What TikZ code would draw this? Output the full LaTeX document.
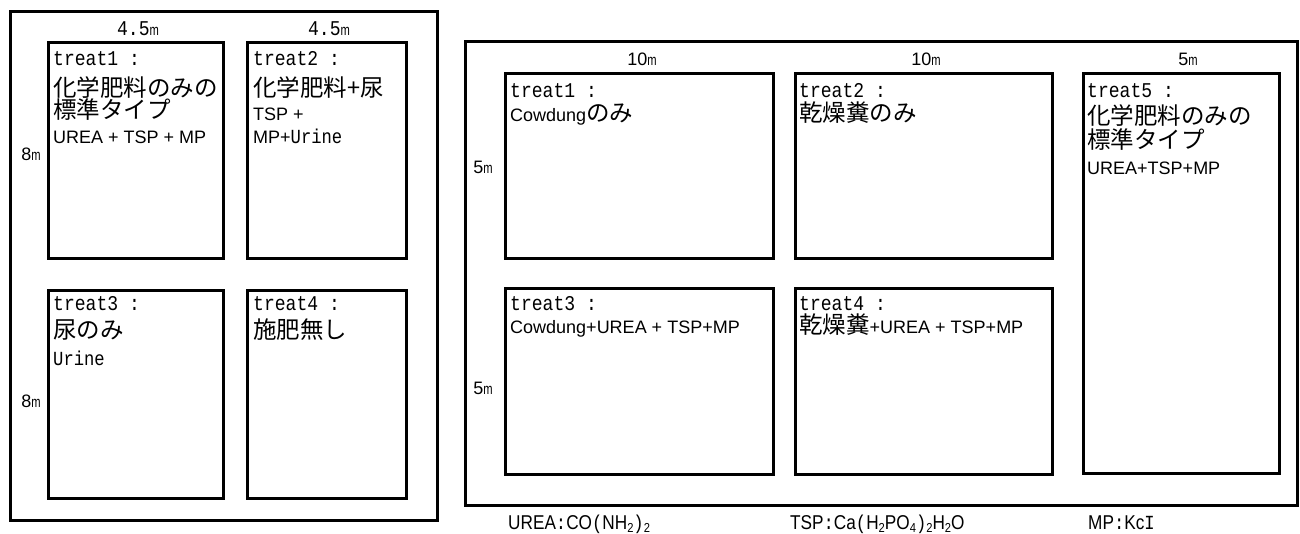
\documentclass[tikz,border=0pt]{standalone}
\usepackage{fontspec}
\usepackage{graphicx}
\setmainfont{Liberation Sans}
\newfontfamily\jp{Noto Sans CJK JP}
\newfontfamily\mono[FakeStretch=0.86]{Liberation Mono}
\newfontfamily\narrow[FakeStretch=0.86]{Liberation Sans}
\newcommand\mU{\scalebox{0.62}[0.85]{m}}
\newcommand\sbs[1]{\raisebox{-3pt}{\fontsize{13}{13}\selectfont #1}}
\newcommand\tr[1]{{\mono\fontsize{21}{21}\selectfont treat#1\ :}}
\tikzset{
  frame/.style={draw, line width=3pt, inner sep=0pt},
  plot/.style={draw, line width=3pt, inner sep=0pt},
  txt/.style={anchor=base west, inner sep=0pt, font=\fontsize{18}{18}\selectfont},
  form/.style={anchor=base west, inner sep=0pt, font=\narrow\fontsize{20}{20}\selectfont},
  jt/.style={anchor=base west, inner sep=0pt, font=\jp\fontsize{23.5}{23.5}\selectfont},
  dim/.style={anchor=base, inner sep=0pt, font=\fontsize{18}{18}\selectfont},
}
\begin{document}
\begin{tikzpicture}[x=1pt,y=-1pt]
\useasboundingbox[fill=white] (0,0) rectangle (1300,533);
% left field
\node[frame, minimum width=427pt, minimum height=509pt] (LF) at (223.5,265.5) {};
\node[plot, minimum width=175pt, minimum height=216pt] (L1) at (135.5,150) {};
\node[plot, minimum width=159pt, minimum height=216pt] (L2) at (326.5,150) {};
\node[plot, minimum width=175pt, minimum height=208pt] (L3) at (135.5,394) {};
\node[plot, minimum width=159pt, minimum height=208pt] (L4) at (326.5,394) {};
% left labels
\node[dim] (d1) at (138,35) {{\mono\fontsize{21}{21}\selectfont 4.5}\mU};
\node[dim] (d2) at (329,35) {{\mono\fontsize{21}{21}\selectfont 4.5}\mU};
\node[dim] (d3) at (31,160) {8\mU};
\node[dim] (d4) at (31,407) {8\mU};
% left texts
\node[txt] (l1a) at (53,65) {\tr{1}};
\node[jt]  (l1b) at (53,96) {化学肥料のみの};
\node[jt]  (l1c) at (53,118) {標準タイプ};
\node[txt] (l1d) at (53,143) {UREA + TSP + MP};
\node[txt] (l2a) at (253,65) {\tr{2}};
\node[jt]  (l2b) at (253,96) {化学肥料+尿};
\node[txt] (l2c) at (253,120) {TSP +};
\node[txt] (l2d) at (253,143) {MP+{\mono\fontsize{20}{20}\selectfont Urine}};
\node[txt] (l3a) at (53,310) {\tr{3}};
\node[jt]  (l3b) at (53,338) {尿のみ};
\node[txt] (l3c) at (53,365) {{\mono\fontsize{20}{20}\selectfont Urine}};
\node[txt] (l4a) at (253,310) {\tr{4}};
\node[jt]  (l4b) at (253,338) {施肥無し};
% right field
\node[frame, minimum width=832pt, minimum height=464pt] (RF) at (881,273) {};
\node[plot, minimum width=268pt, minimum height=185pt] (R1) at (639,165.5) {};
\node[plot, minimum width=257pt, minimum height=185pt] (R2) at (923.5,165.5) {};
\node[plot, minimum width=268pt, minimum height=186pt] (R3) at (639,381) {};
\node[plot, minimum width=257pt, minimum height=186pt] (R4) at (923.5,381) {};
\node[plot, minimum width=196pt, minimum height=400pt] (R5) at (1181,273) {};
% right labels
\node[dim] (e1) at (642,65) {10\mU};
\node[dim] (e2) at (926,65) {10\mU};
\node[dim] (e3) at (1188,65) {5\mU};
\node[dim] (e4) at (483,173) {5\mU};
\node[dim] (e5) at (483,394) {5\mU};
% right texts
\node[txt] (r1a) at (510,97) {\tr{1}};
\node[txt] (r1b) at (510,121) {Cowdung{\jp\fontsize{23.5}{23.5}\selectfont のみ}};
\node[txt] (r2a) at (799,97) {\tr{2}};
\node[jt]  (r2b) at (799,121) {乾燥糞のみ};
\node[txt] (r3a) at (510,310) {\tr{3}};
\node[txt] (r3b) at (510,333) {Cowdung+UREA + TSP+MP};
\node[txt] (r4a) at (799,310) {\tr{4}};
\node[txt] (r4b) at (799,333) {{\jp\fontsize{23.5}{23.5}\selectfont 乾燥糞}+UREA + TSP+MP};
\node[txt] (r5a) at (1087,97) {\tr{5}};
\node[jt]  (r5b) at (1087,124) {化学肥料のみの};
\node[jt]  (r5c) at (1087,148) {標準タイプ};
\node[txt] (r5d) at (1087,174) {UREA+TSP+MP};
% formulas
\node[form] (f1) at (508,529) {UREA{\mono :}CO{\mono (}NH\sbs{2}{\mono )}\sbs{2}};
\node[form] (f2) at (790,529) {TSP{\mono :}Ca{\mono (}H\sbs{2}PO\sbs{4}{\mono )}\sbs{2}H\sbs{2}O};
\node[form] (f3) at (1088,529) {MP{\mono :}Kc{\mono I}};
\end{tikzpicture}
\end{document}
